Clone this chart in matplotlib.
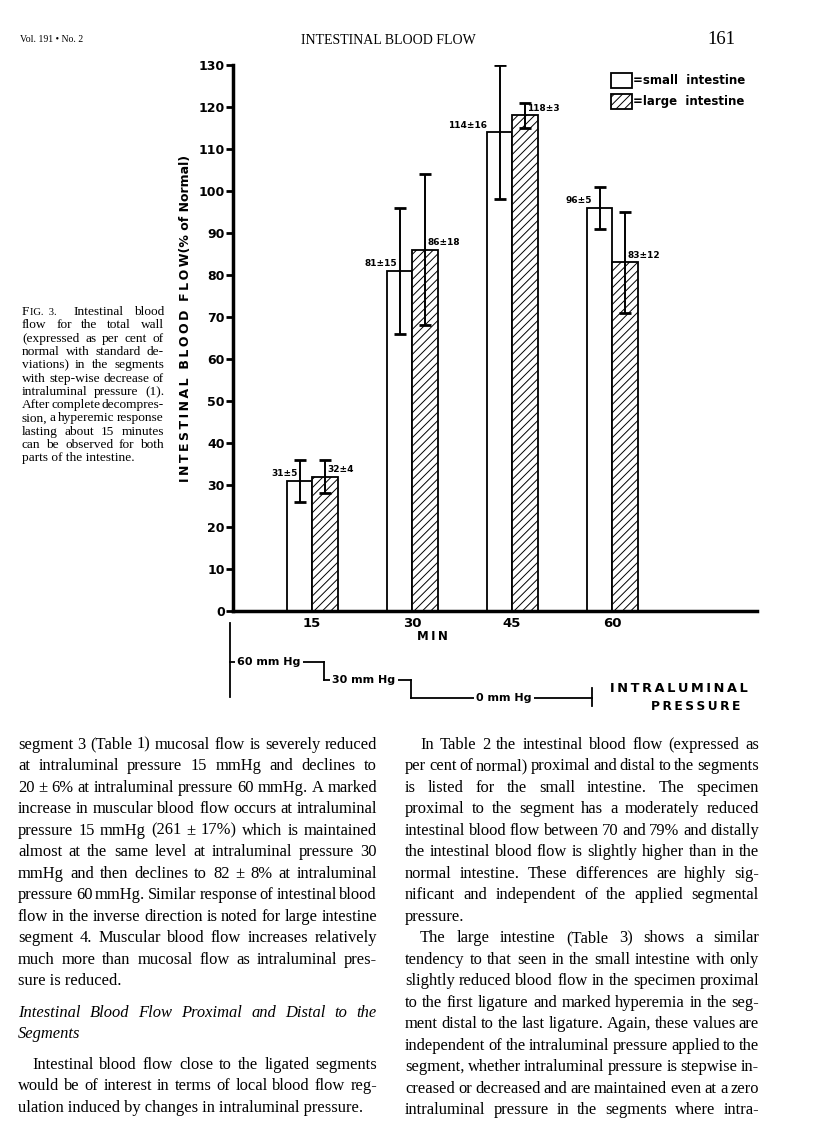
import matplotlib
matplotlib.use('Agg')
import matplotlib.pyplot as plt
from matplotlib.patches import Patch
from matplotlib.transforms import IdentityTransform
import numpy as np

# data
minutes = [15, 30, 45, 60]
small_mean = [31, 81, 114, 96]
small_sd = [5, 15, 16, 5]
large_mean = [32, 86, 118, 83]
large_sd = [4, 18, 3, 12]
yticks = list(range(0, 131, 10))

# intraluminal pressure steps (min, mm Hg)
press_t = [2.7, 16.8, 29.85, 57.0]
press_p = [60, 30, 0]
press_lab = ['60 mm Hg', '30 mm Hg', '0 mm Hg']

W, H = 816, 1142
fig = plt.figure(figsize=(W / 100, H / 100), dpi=100)
plt.rcParams['hatch.linewidth'] = 0.7
TS = '\u2009'  # thin space for letter spacing


def px_box(x0, y0, x1, y1):
    # pixel box (top-left origin) -> figure fraction rect
    return [x0 / W, 1 - y1 / H, (x1 - x0) / W, (y1 - y0) / H]


def spaced(s, gap='  '):
    return gap.join(TS.join(w) for w in s.split(' '))


ax = fig.add_axes(px_box(233, 65, 757, 611))
bw_s, bw_l = 3.75, 3.9
t = np.array(minutes, dtype=float)
ax.bar(t - bw_s, small_mean, width=bw_s, align='edge', color='white',
       edgecolor='black', linewidth=1.3)
ax.bar(t, large_mean, width=bw_l, align='edge', color='white',
       edgecolor='black', linewidth=1.3, hatch='////')
ax.errorbar(t - bw_s / 2, small_mean, yerr=small_sd, fmt='none', ecolor='black',
            elinewidth=1.4, capsize=4.5, capthick=2)
ax.errorbar(t + bw_l / 2, large_mean, yerr=large_sd, fmt='none', ecolor='black',
            elinewidth=1.4, capsize=4.5, capthick=2)

# value labels
small_dx = [-0.3, -0.3, -1.9, -1.2]
for ti, m, s, dx in zip(t, small_mean, small_sd, small_dx):
    ax.text(ti - bw_s / 2 + dx, m + 0.6, f'{m}±{s}', ha='right', va='bottom',
            fontsize=6.5, fontweight='bold')
for ti, m, s in zip(t, large_mean, large_sd):
    ax.text(ti + bw_l / 2 + 0.3, m + 0.6, f'{m}±{s}', ha='left', va='bottom',
            fontsize=6.5, fontweight='bold')

ax.set_xlim(3.15, 81.75)
ax.set_ylim(0, 130)
ax.set_yticks(yticks)
ax.set_yticklabels([str(v) for v in yticks], fontsize=9, fontweight='bold')
ax.set_xticks(minutes)
ax.set_xticklabels([str(m) for m in minutes], fontsize=9.5, fontweight='bold')
ax.tick_params(axis='y', length=5, width=2, pad=1)
ax.tick_params(axis='x', length=0, pad=4)
for side in ['top', 'right']:
    ax.spines[side].set_visible(False)
ax.spines['left'].set_linewidth(2.5)
ax.spines['bottom'].set_linewidth(2.5)

fig.text(186 / W, 1 - 318 / H, spaced('INTESTINAL BLOOD FLOW') + '(% of Normal)',
         rotation=90, ha='center', va='center', fontsize=9, fontweight='bold')
fig.text(432 / W, 1 - 636 / H, spaced('MIN'), ha='center', va='center',
         fontsize=8.5, fontweight='bold')

handles = [Patch(facecolor='white', edgecolor='black', linewidth=1.3),
           Patch(facecolor='white', edgecolor='black', linewidth=1.3, hatch='////')]
fig.legend(handles, ['=small  intestine', '=large  intestine'],
           loc='upper left', bbox_to_anchor=(605 / W, 1 - 67 / H), frameon=False,
           borderpad=0, handlelength=1.75, handleheight=1.55, handletextpad=0.15,
           labelspacing=0.55, prop={'size': 8.5, 'weight': 'bold'})

# pressure diagram (0.6 px per mm Hg, 0 mm Hg at y=698 px)
pax = fig.add_axes(px_box(233, 615, 757, 715))
pax.set_xlim(ax.get_xlim())
pax.set_ylim(-28.3, 138.3)
pax.axis('off')
for i, p in enumerate(press_p):
    pax.plot([press_t[i], press_t[i + 1]], [p, p], color='black', lw=1.3, clip_on=False)
    if i > 0:
        pax.plot([press_t[i], press_t[i]], [press_p[i - 1], p], color='black', lw=1.3,
                 clip_on=False)
label_x = [8.55, 22.8, 43.8]
for lx, p, lab in zip(label_x, press_p, press_lab):
    pax.text(lx, p, lab, ha='center', va='center', fontsize=8, fontweight='bold',
             bbox=dict(facecolor='white', edgecolor='none', pad=1.5))
pax.plot([press_t[0], press_t[0]], [1.7, 125], color='black', lw=1.3, clip_on=False)
pax.plot([press_t[-1], press_t[-1]], [-13.3, 16.7], color='black', lw=1.3, clip_on=False)
fig.text(679 / W, 1 - 689 / H, spaced('INTRALUMINAL'), ha='center', va='center',
         fontsize=9.3, fontweight='bold')
fig.text(696 / W, 1 - 706 / H, spaced('PRESSURE'), ha='center', va='center',
         fontsize=8.8, fontweight='bold')

# page header
serif = 'Liberation Serif'
fig.text(20 / W, 1 - 40 / H, 'Vol. 191 • No. 2', fontsize=7, family=serif, va='center')
fig.text(388 / W, 1 - 40 / H, 'INTESTINAL BLOOD FLOW', fontsize=10, family=serif,
         ha='center', va='center')
fig.text(735 / W, 1 - 39 / H, '161', fontsize=13.5, family=serif, ha='right', va='center')

renderer = fig.canvas.get_renderer()


def put_line(x0, x1, y, line, justify=True, size=11.9, style='normal'):
    words = line.split()
    kw = dict(fontsize=size, family=serif, style=style, va='baseline',
              transform=IdentityTransform())
    yb = H - y - size * 0.32
    if not justify or len(words) == 1:
        fig.text(x0, yb, line, **kw)
        return
    widths = []
    for w in words:
        tt = fig.text(0, 0, w, **kw)
        widths.append(tt.get_window_extent(renderer).width)
        tt.remove()
    gap = (x1 - x0 - sum(widths)) / (len(words) - 1)
    x = x0
    for w, wd in zip(words, widths):
        fig.text(x, yb, w, **kw)
        x += wd + gap


# caption
cap = ['Intestinal blood', 'flow for the total wall', '(expressed as per cent of',
       'normal with standard de-', 'viations) in the segments',
       'with step-wise decrease of', 'intraluminal pressure (1).',
       'After complete decompres-', 'sion, a hyperemic response',
       'lasting about 15 minutes', 'can be observed for both',
       'parts of the intestine.']
cs = 9.6
fig.text(22, H - 312 - cs * 0.32, 'F', fontsize=cs, family=serif, va='baseline',
         transform=IdentityTransform())
fig.text(29.5, H - 312 - cs * 0.32, 'IG.  3.', fontsize=7.6, family=serif, va='baseline',
         transform=IdentityTransform())
put_line(74, 164, 312, cap[0], size=cs)
for i, ln in enumerate(cap[1:], start=1):
    put_line(22, 164, 312 + i * 13.3, ln, justify=(i < len(cap) - 1), size=cs)

# body text, left column
left = [('segment 3 (Table 1) mucosal flow is severely reduced', True),
        ('at intraluminal pressure 15 mmHg and declines to', True),
        ('20 ± 6% at intraluminal pressure 60 mmHg. A marked', True),
        ('increase in muscular blood flow occurs at intraluminal', True),
        ('pressure 15 mmHg (261 ± 17%) which is maintained', True),
        ('almost at the same level at intraluminal pressure 30', True),
        ('mmHg and then declines to 82 ± 8% at intraluminal', True),
        ('pressure 60 mmHg. Similar response of intestinal blood', True),
        ('flow in the inverse direction is noted for large intestine', True),
        ('segment 4. Muscular blood flow increases relatively', True),
        ('much more than mucosal flow as intraluminal pres-', True),
        ('sure is reduced.', False)]
for i, (ln, just) in enumerate(left):
    put_line(18, 377, 745 + i * 21.5, ln, justify=just)
put_line(18, 377, 1013, 'Intestinal Blood Flow Proximal and Distal to the', style='italic')
put_line(18, 377, 1034, 'Segments', justify=False, style='italic')
para = [('Intestinal blood flow close to the ligated segments', 32, True),
        ('would be of interest in terms of local blood flow reg-', 18, True),
        ('ulation induced by changes in intraluminal pressure.', 18, False)]
for i, (ln, x0, just) in enumerate(para):
    put_line(x0, 377, 1065 + i * 21.5, ln, justify=just)

# body text, right column
right = [('In Table 2 the intestinal blood flow (expressed as', 420, True),
         ('per cent of normal) proximal and distal to the segments', 405, True),
         ('is listed for the small intestine. The specimen', 405, True),
         ('proximal to the segment has a moderately reduced', 405, True),
         ('intestinal blood flow between 70 and 79% and distally', 405, True),
         ('the intestinal blood flow is slightly higher than in the', 405, True),
         ('normal intestine. These differences are highly sig-', 405, True),
         ('nificant and independent of the applied segmental', 405, True),
         ('pressure.', 405, False),
         ('The large intestine (Table 3) shows a similar', 420, True),
         ('tendency to that seen in the small intestine with only', 405, True),
         ('slightly reduced blood flow in the specimen proximal', 405, True),
         ('to the first ligature and marked hyperemia in the seg-', 405, True),
         ('ment distal to the last ligature. Again, these values are', 405, True),
         ('independent of the intraluminal pressure applied to the', 405, True),
         ('segment, whether intraluminal pressure is stepwise in-', 405, True),
         ('creased or decreased and are maintained even at a zero', 405, True),
         ('intraluminal pressure in the segments where intra-', 405, True)]
for i, (ln, x0, just) in enumerate(right):
    put_line(x0, 759, 745 + i * 21.5, ln, justify=just)

fig.savefig('out.png', dpi=100)
